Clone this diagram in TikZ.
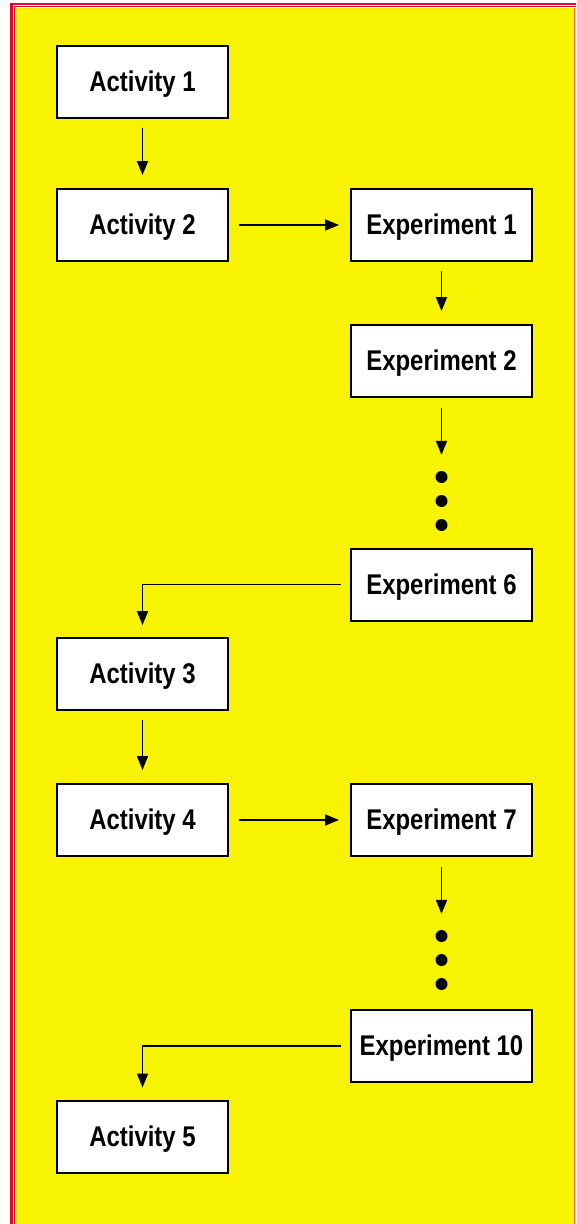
\documentclass[tikz,border=0pt]{standalone}
\usepackage{fontspec}
\setmainfont{Liberation Sans}[FakeStretch=0.84]
\usetikzlibrary{arrows.meta}
\definecolor{bgyellow}{RGB}{248,243,0}
\definecolor{framered}{RGB}{222,10,45}
\definecolor{edgeorange}{RGB}{225,110,30}
\tikzset{
  actbox/.style={draw=black, line width=2pt, fill=white, minimum width=171pt, minimum height=72pt, inner sep=0pt,
    text height=19pt, text depth=-1.5pt,
    font=\fontsize{28.5}{30}\selectfont\bfseries},
  expbox/.style={actbox, minimum width=181pt},
  flow/.style={line width=1.8pt, -{Triangle[length=14pt,width=11pt]}},
  bigdot/.style={circle, fill=black, minimum size=12pt, inner sep=0pt},
}
\begin{document}
\begin{tikzpicture}[x=1pt,y=-1pt]
\useasboundingbox (0,0) rectangle (576,1224);
% background and frame
\fill[bgyellow] (16,8) rectangle (576,1224);
\draw[framered, line width=3pt] (11.5,3) -- (11.5,1224);
\draw[framered, line width=2.2pt] (10,4) -- (576,4);
\draw[framered, line width=1.3pt] (14.8,6) -- (14.8,1224);
\draw[framered, line width=1.3pt] (14.3,6.8) -- (576,6.8);
\draw[edgeorange, line width=1pt] (574.5,8) -- (574.5,1224);
% nodes
\node[actbox] (A1) at (142.5,81.5) {Activity 1};
\node[actbox] (A2) at (142.5,225) {Activity 2};
\node[expbox] (E1) at (441.5,225) {Experiment 1};
\node[expbox] (E2) at (441.5,361) {Experiment 2};
\node[bigdot] (d1) at (441.5,477) {};
\node[bigdot] (d2) at (441.5,501) {};
\node[bigdot] (d3) at (441.5,525) {};
\node[expbox] (E6) at (441.5,584.5) {Experiment 6};
\node[actbox] (A3) at (142.5,674) {Activity 3};
\node[actbox] (A4) at (142.5,820) {Activity 4};
\node[expbox] (E7) at (441.5,820) {Experiment 7};
\node[bigdot] (d4) at (441.5,936) {};
\node[bigdot] (d5) at (441.5,960) {};
\node[bigdot] (d6) at (441.5,984) {};
\node[expbox] (E10) at (441.5,1046) {Experiment 10};
\node[actbox] (A5) at (142.5,1136.5) {Activity 5};
% connectors
\draw[flow, shorten <=9pt, shorten >=13pt] (A1.south) -- (A2.north);
\draw[flow, shorten <=10pt, shorten >=11pt] (A2.east) -- (E1.west);
\draw[flow, shorten <=9pt, shorten >=13pt] (E1.south) -- (E2.north);
\draw[flow, shorten <=10pt, shorten >=16pt] (E2.south) -- (d1.north);
\draw[flow, shorten <=9pt, shorten >=12pt] (E6.west) -- (E6.west -| A3.north) -- (A3.north);
\draw[flow, shorten <=9pt, shorten >=13pt] (A3.south) -- (A4.north);
\draw[flow, shorten <=10pt, shorten >=11pt] (A4.east) -- (E7.west);
\draw[flow, shorten <=10pt, shorten >=16pt] (E7.south) -- (d4.north);
\draw[flow, shorten <=9pt, shorten >=12pt] (E10.west) -- (E10.west -| A5.north) -- (A5.north);
\end{tikzpicture}
\end{document}
